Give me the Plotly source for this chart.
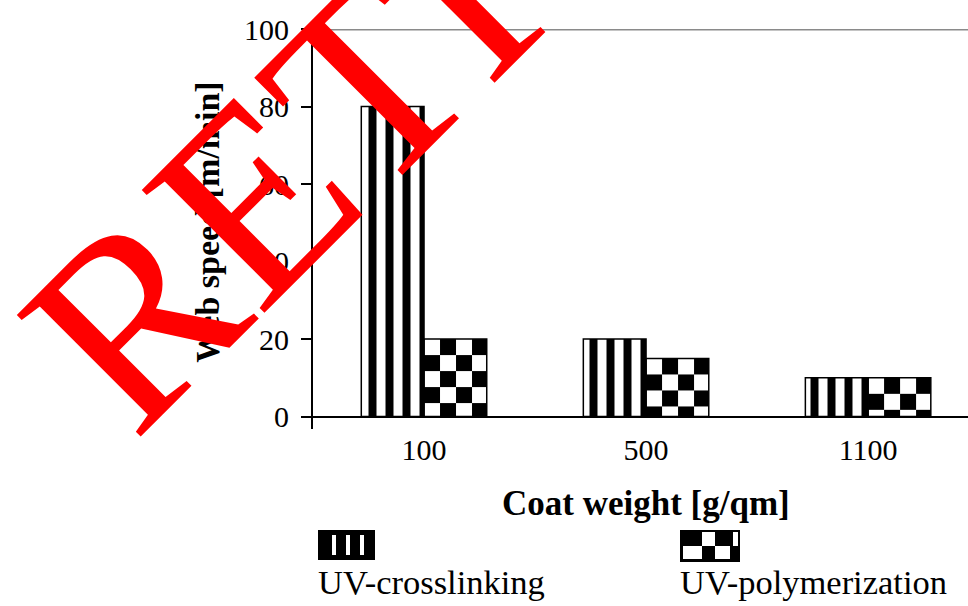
import base64
import plotly.graph_objects as go

# ---- data -------------------------------------------------------------
categories = ["100", "500", "1100"]
series_names = ["UV-crosslinking", "UV-polymerization"]
uv_crosslinking = [80, 20, 10]
uv_polymerization = [20, 15, 10]
y_ticks = [0, 20, 40, 60, 80, 100]
x_title = "Coat weight [g/qm]"
y_title = "Web speed [m/min]"
stamp = "RETRACTED"

# ---- geometry / style -------------------------------------------------
W, H = 968, 606
M_L, M_R, M_T, M_B = 313, 0, 29, 177
X_RANGE = [-0.5, 2.45]
Y_RANGE = [-3.2, 100]
BARGAP = 0.435
SERIF = "Liberation Serif, Times New Roman, serif"

plot_w = W - M_L - M_R
plot_h = H - M_T - M_B
px_per_x = plot_w / (X_RANGE[1] - X_RANGE[0])
px_per_y = plot_h / (Y_RANGE[1] - Y_RANGE[0])


def paper_x(p):
    return (p - M_L) / plot_w


def paper_y(p):
    return (H - M_B - p) / plot_h


def svg_uri(body, w, h):
    svg = (f'<svg xmlns="http://www.w3.org/2000/svg" width="{w:.2f}" height="{h:.2f}" '
           f'viewBox="0 0 {w:.2f} {h:.2f}" preserveAspectRatio="none">{body}</svg>')
    return "data:image/svg+xml;base64," + base64.b64encode(svg.encode()).decode()


def checker_uri(w, h, sq=16.0):
    parts = [f'<rect width="{w:.2f}" height="{h:.2f}" fill="white"/>']
    nx, ny = int(w // sq) + 1, int(h // sq) + 1
    for r in range(ny):
        for c in range(nx):
            if (r + c) % 2 == 1:
                parts.append(f'<rect x="{c*sq:.2f}" y="{r*sq:.2f}" width="{sq:.2f}" '
                             f'height="{sq:.2f}" fill="black"/>')
    return svg_uri("".join(parts), w, h)


idx = list(range(len(categories)))
bar_w = (1 - BARGAP) / 2

fig = go.Figure()
fig.add_trace(go.Bar(
    x=idx, y=uv_crosslinking, name=series_names[0],
    marker=dict(color="white", line=dict(color="black", width=1.5),
                pattern=dict(shape="|", fgcolor="black", bgcolor="white",
                             size=17, solidity=0.47, fillmode="replace")),
))
fig.add_trace(go.Bar(
    x=idx, y=uv_polymerization, name=series_names[1],
    marker=dict(color="rgba(0,0,0,0)", line=dict(color="black", width=1.5)),
))

images = []
# checkerboard fill for the second series, one tile image per bar
for i, v in zip(idx, uv_polymerization):
    images.append(dict(
        source=checker_uri(bar_w * px_per_x, v * px_per_y),
        xref="x", yref="y", x=i, y=v, sizex=bar_w, sizey=v,
        xanchor="left", yanchor="top", sizing="stretch", layer="below",
    ))

# legend swatches
stripe_sw = ('<rect width="57" height="30" fill="black"/>'
             '<rect x="14" y="5" width="4" height="20" fill="white"/>'
             '<rect x="28" y="5" width="4" height="20" fill="white"/>'
             '<rect x="42" y="5" width="4" height="20" fill="white"/>')
check_sw = ('<rect width="60" height="32" fill="black"/>'
            '<rect x="22" y="2" width="13" height="14" fill="white"/>'
            '<rect x="53" y="2" width="5" height="14" fill="white"/>'
            '<rect x="3" y="16" width="19" height="13" fill="white"/>'
            '<rect x="35" y="16" width="15" height="13" fill="white"/>')
swatches = [(stripe_sw, 57, 30, 318), (check_sw, 60, 32, 680)]
annotations = []
for (body, sw, sh, left), name in zip(swatches, series_names):
    images.append(dict(
        source=svg_uri(body, sw, sh), xref="paper", yref="paper",
        x=paper_x(left), y=paper_y(530), sizex=sw / plot_w, sizey=sh / plot_h,
        xanchor="left", yanchor="top", sizing="stretch", layer="above",
    ))
    annotations.append(dict(
        text=name, xref="paper", yref="paper", x=paper_x(left - 2), y=paper_y(582),
        xanchor="left", yanchor="middle", showarrow=False,
        font=dict(family=SERIF, size=34.5, color="black"),
    ))

annotations.append(dict(
    text=f"<b>{x_title}</b>", xref="x", yref="paper", x=1, y=paper_y(503),
    xanchor="center", yanchor="middle", showarrow=False,
    font=dict(family=SERIF, size=35, color="black"),
))
annotations.append(dict(
    text=f"<b>{y_title}</b>", xref="paper", yref="y", x=paper_x(208), y=50,
    xanchor="center", yanchor="middle", textangle=-90, showarrow=False,
    font=dict(family=SERIF, size=34, color="black"),
))
# red stamp across the chart
annotations.append(dict(
    text=stamp, xref="paper", yref="paper", x=paper_x(622), y=paper_y(-172),
    xanchor="center", yanchor="middle", textangle=-45, showarrow=False,
    font=dict(family=SERIF, size=265, color="#ff0000"),
))

fig.update_layout(
    width=W, height=H,
    margin=dict(l=M_L, r=M_R, t=M_T, b=M_B),
    paper_bgcolor="white", plot_bgcolor="white",
    barmode="group", bargap=BARGAP, bargroupgap=0,
    showlegend=False,
    images=images, annotations=annotations,
    shapes=[dict(type="line", xref="paper", yref="y", x0=0, x1=1, y0=100, y1=100,
                 line=dict(color="#8a8a8a", width=3), layer="above")],
    xaxis=dict(range=X_RANGE, tickmode="array", tickvals=idx, ticktext=categories,
               showline=False, zeroline=False, showgrid=False, ticks="",
               tickfont=dict(family=SERIF, size=30, color="black")),
    yaxis=dict(range=Y_RANGE, tickmode="array", tickvals=y_ticks,
               ticks="outside", ticklen=10, tickwidth=2, tickcolor="black",
               showline=True, linecolor="black", linewidth=2,
               showgrid=False, zeroline=True, zerolinecolor="black", zerolinewidth=2,
               tickfont=dict(family=SERIF, size=30, color="black"),
               ticklabelstandoff=6),
)

fig.write_html("out.html")
